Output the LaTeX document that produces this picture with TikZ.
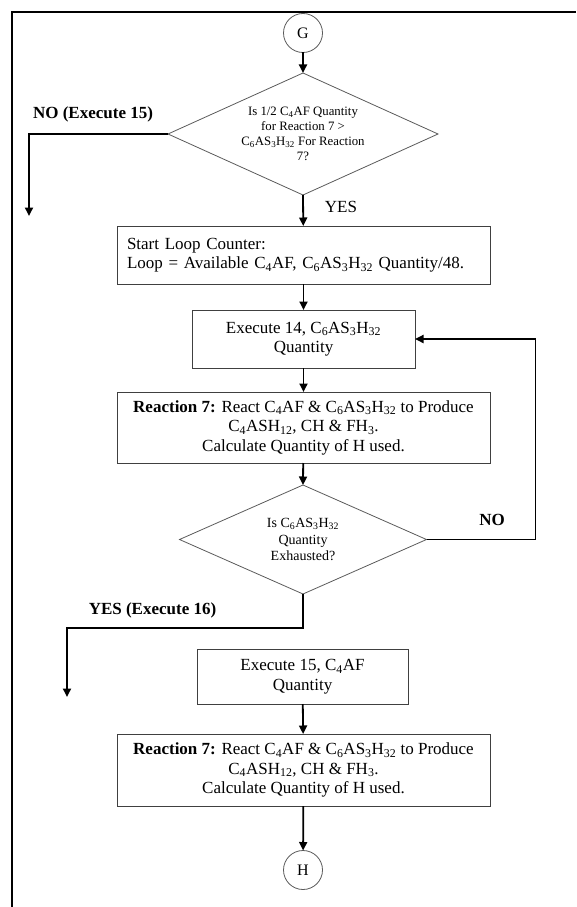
\documentclass[tikz,border=0pt]{standalone}
\usepackage{fontspec}
\setmainfont{Liberation Serif}
\usetikzlibrary{arrows.meta}

\definecolor{edgegray}{HTML}{404040}
\definecolor{diagray}{HTML}{5A5A5A}
\newcommand{\lowsub}[1]{\textsubscript{#1}}

\begin{document}
\begin{tikzpicture}[x=1pt,y=-1pt,
  every node/.style={inner sep=0pt,outer sep=0pt},
  bodyfont/.style={font=\fontsize{17}{19.5}\selectfont},
  procbox/.style={draw=edgegray,line width=0.9pt,bodyfont,align=center},
  decision/.style={align=center},
  diamondedge/.style={draw=diagray,line width=0.8pt},
  connector/.style={circle,draw=diagray,line width=0.8pt,minimum size=39pt,
    font=\fontsize{16}{18}\selectfont},
  flow/.style={line width=1.8pt,-{Triangle[length=8.5pt,width=8pt]}},
  branchlabel/.style={font=\fontsize{17}{19.5}\selectfont\bfseries},
  yeslabel/.style={font=\fontsize{17}{19.5}\selectfont}]

\useasboundingbox (0,0) rectangle (576,907);

% page frame (left and top edges)
\draw[line width=2pt] (12,907) -- (12,12) -- (576,12);

% off-page connectors
\node[connector] (g) at (303,33) {G};
\node[connector] (h) at (303,870) {H};

% first decision: text node whose side midpoints are the diamond corners
\node[decision,minimum width=270pt,minimum height=122pt,
      font=\fontsize{12.8}{15}\selectfont] (d1) at (303,134)
  {Is 1/2 C\lowsub{4}AF Quantity\\for Reaction 7 >\\
   C\lowsub{6}AS\lowsub{3}H\lowsub{32} For Reaction\\7?};
\draw[diamondedge] (d1.north) -- (d1.east) -- (d1.south) -- (d1.west) -- cycle;

% loop set-up and body
\node[procbox,align=left,text width=353pt,inner xsep=10pt,minimum height=58pt]
  (b1) at (303.5,255)
  {Start Loop Counter:\\
   Loop = Available C\lowsub{4}AF, C\lowsub{6}AS\lowsub{3}H\lowsub{32} Quantity/48.};

\node[procbox,minimum width=223pt,minimum height=58pt] (b2) at (303.5,339)
  {Execute 14, C\lowsub{6}AS\lowsub{3}H\lowsub{32}\\Quantity};

\node[procbox,minimum width=373pt,minimum height=71pt] (b3) at (303.5,427.5)
  {\textbf{Reaction 7:} React C\lowsub{4}AF \& C\lowsub{6}AS\lowsub{3}H\lowsub{32} to Produce\\
   C\lowsub{4}ASH\lowsub{12}, CH \& FH\lowsub{3}.\\
   Calculate Quantity of H used.};

% second decision
\node[decision,minimum width=247pt,minimum height=109pt,
      font=\fontsize{14}{16.5}\selectfont] (d2) at (303,539.5)
  {Is C\lowsub{6}AS\lowsub{3}H\lowsub{32}\\Quantity\\Exhausted?};
\draw[diamondedge] (d2.north) -- (d2.east) -- (d2.south) -- (d2.west) -- cycle;

% C4AF path
\node[procbox,minimum width=211pt,minimum height=55pt] (b4) at (302.5,676.5)
  {Execute 15, C\lowsub{4}AF\\Quantity};

\node[procbox,minimum width=373pt,minimum height=72pt] (b5) at (303.5,770)
  {\textbf{Reaction 7:} React C\lowsub{4}AF \& C\lowsub{6}AS\lowsub{3}H\lowsub{32} to Produce\\
   C\lowsub{4}ASH\lowsub{12}, CH \& FH\lowsub{3}.\\
   Calculate Quantity of H used.};

% branch end points
\coordinate (noend) at (29,216);
\coordinate (loopright) at (535.5,539.5);
\coordinate (yesturn) at (303,628);
\coordinate (yesend) at (67,697);

% connectors
\draw[flow] (g) -- (d1.north);
\draw[flow] (d1.west) -| (noend);
\draw[flow] (d1.south) -- (b1);
\draw[flow] (b1) -- (b2);
\draw[flow] (b2) -- (b3);
\draw[flow] (b3) -- (d2.north);
\draw[flow] (d2.east) -- (loopright) |- (b2.east);
\draw[flow] (d2.south) -- (yesturn) -| (yesend);
\draw[flow] (b4) -- (b5);
\draw[flow] (b5) -- (h);

% branch labels
\node[branchlabel] (lno1) at (93,114) {NO (Execute 15)};
\node[yeslabel] (lyes1) at (341,207) {YES};
\node[branchlabel] (lno2) at (492,520) {NO};
\node[branchlabel] (lyes2) at (152.5,610) {YES (Execute 16)};

\end{tikzpicture}
\end{document}
